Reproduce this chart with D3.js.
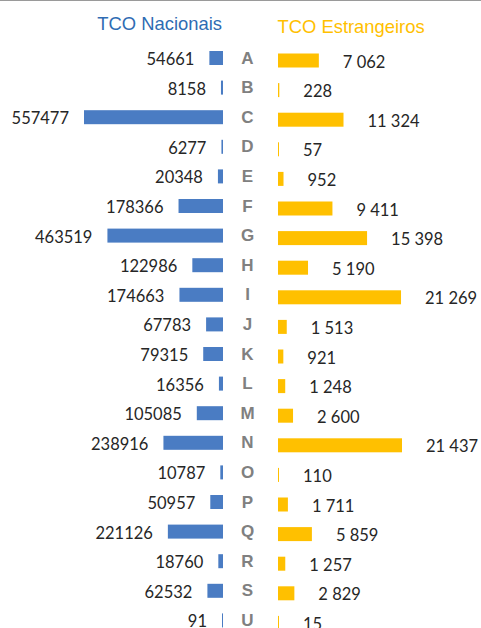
<!DOCTYPE html>
<html>
<head>
<meta charset="utf-8">
<script src="https://cdn.jsdelivr.net/npm/d3@7"></script>
<style>
  html, body { margin: 0; padding: 0; background: #fff; }
  svg { display: block; }
</style>
</head>
<body>
<div id="chart"></div>
<script>
// Categories and the two series of TCO counts
const categories = ["A","B","C","D","E","F","G","H","I","J","K","L","M","N","O","P","Q","R","S","U"];
const nacionais = [54661, 8158, 557477, 6277, 20348, 178366, 463519, 122986, 174663, 67783,
                   79315, 16356, 105085, 238916, 10787, 50957, 221126, 18760, 62532, 91];
const estrangeiros = [7062, 228, 11324, 57, 952, 9411, 15398, 5190, 21269, 1513,
                      921, 1248, 2600, 21437, 110, 1711, 5859, 1257, 2829, 15];
const titles = ["TCO Nacionais", "TCO Estrangeiros"];

const W = 481, H = 628;
const blue = "#4a7cc3", blueText = "#2f6cb3", orange = "#ffc000", grey = "#808080";

const svg = d3.select("#chart").append("svg")
  .attr("width", W).attr("height", H);

// frame line along the top edge
svg.append("line")
  .attr("x1", 0).attr("x2", W).attr("y1", 0.5).attr("y2", 0.5)
  .attr("stroke", "#9a9a9a").attr("stroke-width", 1);

// shared row positions
const y = d3.scaleBand()
  .domain(categories)
  .range([43.2, 635.2])
  .paddingInner(0.5)
  .paddingOuter(0.25);
const bh = 14;
const rowC = c => y(c) + y.bandwidth() / 2;

// left panel: bars grow leftwards from the centre gap
const leftZero = 223;
const xl = d3.scaleLinear().domain([0, d3.max(nacionais)]).range([0, 139]);
// right panel: bars grow rightwards
const rightZero = 278;
const xr = d3.scaleLinear().domain([0, d3.max(estrangeiros)]).range([0, 124]);
const rightShift = 2.5;

const numFont = "Lato, 'Open Sans', sans-serif";
const spaceFmt = d3.formatLocale({ decimal: ",", thousands: " ", grouping: [3], currency: ["", ""] }).format(",d");

const rows = categories.map((c, i) => ({ c, n: nacionais[i], e: estrangeiros[i] }));

// titles
svg.append("text")
  .attr("x", 222).attr("y", 29.5)
  .attr("text-anchor", "end")
  .attr("font-family", "'Liberation Sans', Arial, sans-serif")
  .attr("font-size", 18.4)
  .attr("fill", blueText)
  .text(titles[0]);
svg.append("text")
  .attr("x", 277.5).attr("y", 33.3)
  .attr("text-anchor", "start")
  .attr("font-family", "'Liberation Sans', Arial, sans-serif")
  .attr("font-size", 18.4)
  .attr("fill", orange)
  .text(titles[1]);

// left bars
svg.append("g").selectAll("rect").data(rows).join("rect")
  .attr("x", d => leftZero - Math.max(1, xl(d.n)))
  .attr("width", d => Math.max(1, xl(d.n)))
  .attr("y", d => rowC(d.c) - bh / 2)
  .attr("height", bh)
  .attr("fill", blue);

// left values
svg.append("g").selectAll("text").data(rows).join("text")
  .attr("x", d => leftZero - Math.max(1, xl(d.n)) - 15)
  .attr("y", d => rowC(d.c) + 1)
  .attr("dominant-baseline", "central")
  .attr("text-anchor", "end")
  .attr("font-family", numFont)
  .attr("font-size", 16.5)
  .attr("fill", "#262626")
  .text(d => d.n);

// category letters in the centre column
svg.append("g").selectAll("text").data(rows).join("text")
  .attr("x", 247.5)
  .attr("y", d => rowC(d.c))
  .attr("dominant-baseline", "central")
  .attr("text-anchor", "middle")
  .attr("font-family", "'Liberation Sans', Arial, sans-serif")
  .attr("font-weight", "bold")
  .attr("font-size", 17)
  .attr("fill", grey)
  .text(d => d.c);

// right bars
svg.append("g").selectAll("rect").data(rows).join("rect")
  .attr("x", rightZero)
  .attr("width", d => Math.max(1, xr(d.e)))
  .attr("y", d => rowC(d.c) + rightShift - bh / 2)
  .attr("height", bh)
  .attr("fill", orange);

// right values
svg.append("g").selectAll("text").data(rows).join("text")
  .attr("x", d => rightZero + Math.max(1, xr(d.e)) + 24)
  .attr("y", d => rowC(d.c) + rightShift + 1)
  .attr("dominant-baseline", "central")
  .attr("text-anchor", "start")
  .attr("font-family", numFont)
  .attr("font-size", 16.5)
  .attr("fill", "#262626")
  .text(d => spaceFmt(d.e));
</script>
</body>
</html>
